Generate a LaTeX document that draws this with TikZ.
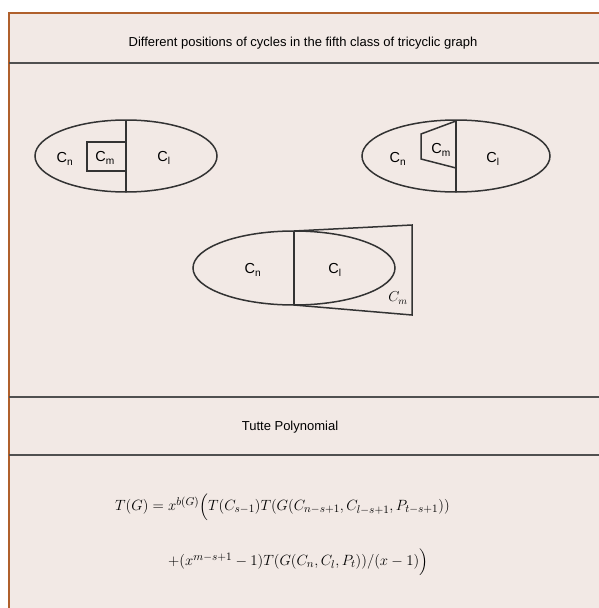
\documentclass[tikz,border=0pt]{standalone}
\usepackage{amsmath}
\usepackage{fontspec}
\setmainfont{Liberation Sans}
\definecolor{sfondo}{HTML}{F2E9E5}
\definecolor{cornice}{HTML}{B0602C}
\definecolor{linea}{HTML}{505050}
\tikzset{
  ciclo/.style={line width=1.5pt, draw=black!80},
  sep/.style={line width=1.8pt, draw=linea},
  etichetta/.style={font=\fontsize{14.5}{16}\selectfont, inner sep=0pt},
  titolo/.style={font=\fontsize{13}{15}\selectfont, inner sep=0pt},
  formula/.style={anchor=west, inner sep=0pt, font=\fontsize{15.8}{18}\selectfont, scale=1.03, transform shape}
}
\begin{document}
\begin{tikzpicture}[x=1pt,y=-1pt]
        \useasboundingbox (0,0) rectangle (599,608);
        %sfondo e cornice
        \fill[sfondo] (9,13) rectangle (600,609);
        \draw[cornice, line width=1.6pt] (9,609) -- (9,13) -- (600,13);
        %separatori
        \draw[sep] (9,63) -- (600,63);
        \draw[sep] (9,397) -- (600,397);
        \draw[sep] (9,455) -- (600,455);
        \node[titolo] (tit) at (303,43) {Different positions of cycles in the fifth class of tricyclic graph};
        \node[titolo] (tutte) at (290,427) {Tutte Polynomial};

        %primo grafo: C_m dentro C_n
        \draw[ciclo] (126,156) ellipse (91 and 36);
        \draw[ciclo] (126,120) -- (126,192);
        \draw[ciclo] (126,142) -- (87,142) -- (87,171) -- (126,171);
        \node[etichetta] (n1) at (65,159) {C\textsubscript{n}};
        \node[etichetta] (m1) at (105,158) {C\textsubscript{m}};
        \node[etichetta] (l1) at (164,158) {C\textsubscript{l}};

        %secondo grafo: C_m attaccato al vertice in alto
        \draw[ciclo] (456,156) ellipse (94 and 36);
        \draw[ciclo] (456,120) -- (456,192);
        \draw[ciclo] (456,121) -- (421,134) -- (421,159) -- (456,168);
        \node[etichetta] (n2) at (398,159) {C\textsubscript{n}};
        \node[etichetta] (m2) at (441,150) {C\textsubscript{m}};
        \node[etichetta] (l2) at (493,159) {C\textsubscript{l}};

        %terzo grafo: C_m esterno
        \draw[ciclo] (294,268) ellipse (101 and 37);
        \draw[ciclo] (294,231) -- (294,305);
        \draw[ciclo] (294,231) -- (412,225) -- (412,315) -- (294,305);
        \node[etichetta] (n3) at (253,270) {C\textsubscript{n}};
        \node[etichetta] (l3) at (335,270) {C\textsubscript{l}};
        \node[etichetta] (m3) at (398,298) {$C_m$};

        %polinomio
        \node[formula] (riga1) at (115,507)
          {$T(G)=x^{b(G)}\Big(T(C_{s-1})T(G(C_{n-s+1},C_{l-s+1},P_{t-s+1}))$};
        \node[formula] (riga2) at (168,562)
          {$+(x^{m-s+1}-1)T(G(C_n,C_l,P_t))/(x-1)\Big)$};
\end{tikzpicture}
\end{document}
